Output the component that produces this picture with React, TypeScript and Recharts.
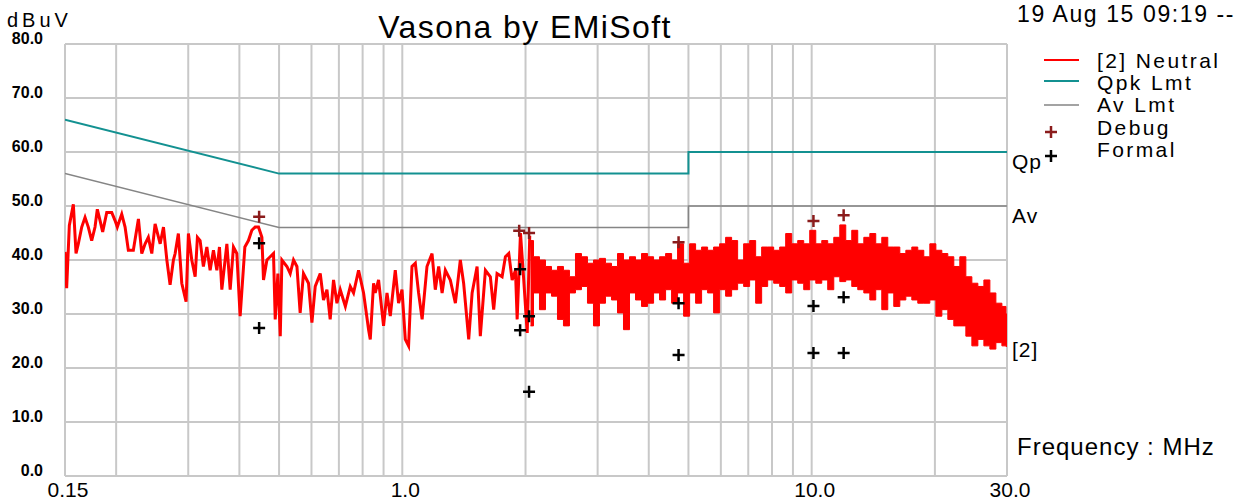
import React from 'react';
import { ComposedChart, Line, Area, Scatter, XAxis, YAxis, CartesianGrid, ReferenceDot } from 'recharts';

const W = 1239;
const H = 501;
const FONT = '"Liberation Sans", Arial, sans-serif';

// axis grid
const gridFreqs = [0.15, 0.2, 0.3, 0.4, 0.5, 0.6, 0.7, 0.8, 0.9, 1, 2, 3, 4, 5, 6, 7, 8, 9, 10, 20, 30];
const freqTickLabels: Record<string, string> = { '0.15': '0.15', '1': '1.0', '10': '10.0', '30': '30.0' };
const levelTicks = [0, 10, 20, 30, 40, 50, 60, 70, 80];

// limit lines [MHz, dBuV]
const qpkLimit: [number, number][] = [[0.15, 66], [0.5, 56], [5, 56], [5, 60], [30, 60]];
const avLimit: [number, number][] = [[0.15, 56], [0.5, 46], [5, 46], [5, 50], [30, 50]];

// neutral scan, lower part of the band [MHz, dBuV]
const neutralScan: [number, number][] = [
  [0.150, 41.5], [0.1514, 34.8], [0.1537, 46.4], [0.1572, 50.3], [0.1596, 41.2], [0.1617, 43.0],
  [0.1648, 46.1], [0.1679, 47.9], [0.1710, 46.1], [0.1743, 43.6], [0.1776, 46.1], [0.1799, 49.4],
  [0.1827, 47.3], [0.1854, 45.2], [0.1897, 48.8], [0.1951, 48.8], [0.1988, 47.3], [0.2013, 46.1],
  [0.2064, 48.5], [0.2103, 46.1], [0.2142, 41.8], [0.2203, 41.8], [0.2267, 47.6], [0.2310, 41.2],
  [0.2354, 43.0], [0.2397, 44.2], [0.2444, 41.2], [0.2490, 46.7], [0.2562, 43.0], [0.2610, 46.1],
  [0.2660, 40.0], [0.2709, 35.4], [0.2760, 40.0], [0.2787, 41.2], [0.2838, 44.9], [0.2893, 35.7],
  [0.2964, 32.3], [0.3003, 44.9], [0.3060, 40.0], [0.3119, 36.9], [0.3159, 44.2], [0.3207, 43.6],
  [0.3267, 38.8], [0.3331, 42.4], [0.3393, 38.1], [0.3457, 41.8], [0.3524, 38.1], [0.3576, 42.4],
  [0.3624, 34.5], [0.3728, 43.0], [0.3798, 34.5], [0.3869, 42.4], [0.3943, 41.2], [0.4017, 29.6],
  [0.4125, 42.4], [0.4209, 43.6], [0.4290, 45.5], [0.4371, 46.1], [0.4454, 46.1], [0.4540, 44.2],
  [0.4581, 36.3], [0.4670, 40.0], [0.4757, 40.6], [0.4846, 41.2], [0.4893, 29.0], [0.4967, 37.5],
  [0.5034, 25.9], [0.5081, 40.0], [0.5226, 38.8], [0.5324, 37.5], [0.5424, 40.0], [0.5529, 38.8],
  [0.5630, 30.2], [0.5736, 37.5], [0.5901, 35.7], [0.6015, 28.4], [0.6128, 35.1], [0.6303, 37.5],
  [0.6420, 32.6], [0.6545, 34.5], [0.6666, 29.0], [0.6793, 36.3], [0.6924, 32.0], [0.7054, 34.5],
  [0.7260, 31.4], [0.7463, 35.1], [0.7603, 33.9], [0.7820, 38.1], [0.8043, 33.9], [0.8273, 27.1],
  [0.8352, 25.3], [0.8508, 35.7], [0.8589, 33.9], [0.8751, 36.3], [0.9000, 27.8], [0.9175, 33.9],
  [0.9347, 29.6], [0.9613, 38.1], [0.9794, 32.0], [0.9984, 34.5], [1.017, 25.3], [1.036, 24.1],
  [1.056, 38.8], [1.076, 39.4], [1.096, 33.9], [1.118, 29.0], [1.149, 38.8], [1.182, 41.2],
  [1.204, 34.5], [1.227, 38.8], [1.251, 33.9], [1.274, 38.1], [1.310, 36.3], [1.348, 32.0],
  [1.386, 40.0], [1.412, 35.7], [1.453, 25.3], [1.481, 33.9], [1.523, 38.8], [1.551, 25.9],
  [1.596, 38.1], [1.641, 36.9], [1.672, 30.8], [1.704, 37.5], [1.753, 36.9], [1.786, 40.6],
  [1.820, 41.2], [1.855, 36.3], [1.890, 38.1], [1.908, 29.0], [1.944, 45.0], [1.980, 36.3],
  [2.019, 26.5], [2.048, 44.5],
];

// neutral scan above 2 MHz, min / max per bin [MHz, min, max]
const neutralBand: [number, number, number][] = [
  [2.057, 27.8, 43.6], [2.127, 33.9, 40.6], [2.200, 30.8, 40.0], [2.276, 33.9, 38.8], [2.354, 33.3, 38.1],
  [2.434, 29.0, 38.8], [2.518, 27.8, 38.1], [2.604, 33.9, 36.9], [2.694, 34.5, 41.2], [2.786, 35.1, 40.6],
  [2.882, 32.0, 39.4], [2.981, 27.8, 40.0], [3.083, 32.0, 40.3], [3.189, 33.3, 39.4], [3.299, 32.6, 38.8],
  [3.412, 30.2, 41.2], [3.529, 27.1, 40.0], [3.651, 33.9, 40.6], [3.776, 32.6, 40.0], [3.906, 31.4, 41.2],
  [4.041, 32.0, 40.6], [4.179, 33.9, 40.0], [4.323, 32.6, 40.6], [4.472, 34.5, 41.2], [4.625, 32.0, 40.0],
  [4.784, 33.9, 43.0], [4.949, 29.6, 39.4], [5.119, 33.9, 43.0], [5.294, 32.0, 41.8], [5.476, 34.5, 42.4],
  [5.664, 33.9, 41.8], [5.858, 30.2, 42.4], [6.060, 34.5, 43.0], [6.268, 33.3, 44.2], [6.483, 34.5, 43.6],
  [6.706, 35.7, 40.0], [6.936, 35.1, 43.0], [7.175, 36.3, 43.6], [7.421, 32.0, 40.6], [7.676, 35.1, 42.4],
  [7.940, 36.3, 42.4], [8.213, 35.7, 41.8], [8.495, 35.1, 42.4], [8.787, 33.9, 44.9], [9.089, 36.3, 43.0],
  [9.401, 35.7, 43.6], [9.725, 34.5, 43.0], [10.06, 36.3, 45.5], [10.41, 35.7, 43.0], [10.76, 36.3, 43.6],
  [11.13, 34.5, 43.0], [11.52, 36.9, 44.2], [11.91, 36.0, 46.5], [12.32, 36.3, 43.6], [12.74, 35.1, 45.5],
  [13.18, 34.5, 43.0], [13.64, 33.9, 44.2], [14.10, 32.6, 44.9], [14.58, 34.5, 43.0], [15.09, 30.8, 44.2],
  [15.60, 33.9, 42.4], [16.14, 31.4, 42.4], [16.70, 32.6, 41.2], [17.27, 33.3, 41.8], [17.86, 32.6, 42.4],
  [18.47, 32.0, 41.8], [19.11, 32.0, 40.6], [19.77, 32.6, 43.0], [20.45, 29.6, 41.8], [21.15, 30.8, 41.2],
  [21.87, 29.0, 40.6], [22.62, 27.8, 38.8], [23.40, 27.8, 40.6], [24.21, 25.9, 36.9], [25.04, 24.1, 35.7],
  [25.90, 25.3, 35.1], [26.79, 24.1, 36.3], [27.71, 23.5, 33.9], [28.66, 24.7, 32.0], [29.65, 24.1, 31.4],
  [30.0, 24.0, 30.0],
];

// peak markers [MHz, dBuV]
const debugPeaks: [number, number][] = [[0.447, 48.0], [1.93, 45.4], [2.04, 45.0], [4.73, 43.3], [10.1, 47.2], [11.97, 48.3]];
const formalPeaks: [number, number][] = [
  [0.447, 43.1], [0.447, 27.4], [1.94, 38.3], [1.94, 27.0], [2.04, 29.6], [2.04, 15.6],
  [4.73, 32.0], [4.73, 22.4], [10.1, 31.5], [10.1, 22.8], [11.97, 33.1], [11.97, 22.8],
];

const legendNames = ['[2] Neutral', 'Qpk Lmt', 'Av Lmt', 'Debug', 'Formal'];

const RED = '#ff0000';
const TEAL = '#139191';
const GRAY = '#858585';
const DARKRED = '#8b1c1c';

const toPts = (rows: [number, number][]) => rows.map(([f, v]) => ({ f, v }));
const scanData = toPts(neutralScan);
const bandData = neutralBand.map(([f, lo, hi]) => ({ f, band: [lo, hi] }));
const qpkData = toPts(qpkLimit);
const avData = toPts(avLimit);
const debugData = toPts(debugPeaks);
const formalData = toPts(formalPeaks);
const lastLevel = neutralBand[neutralBand.length - 1][1];

const Plus = ({ cx, cy, color }: { cx: number; cy: number; color: string }) => (
  <path d={`M${cx - 6},${cy}H${cx + 6}M${cx},${cy - 6}V${cy + 6}`} stroke={color} strokeWidth={2.5} fill="none" />
);

const FreqTick = (props: any) => {
  const { x, y, payload } = props;
  const label = freqTickLabels[String(payload.value)];
  if (!label) return <g />;
  return (
    <text x={x + 3} y={y} dy={21} textAnchor="middle" fontFamily={FONT} fontSize={21} fill="#000">
      {label}
    </text>
  );
};

const LevelTick = (props: any) => {
  const { x, y, payload } = props;
  return (
    <text x={x} y={y} dy={0} textAnchor="end" fontFamily={FONT} fontSize={16} fontWeight="bold" fill="#000">
      {payload.value.toFixed(1)}
    </text>
  );
};

const endLabel = (text: string, dy: number) => (props: any) => {
  const vb = props.viewBox;
  return (
    <text x={vb.x + 6} y={vb.y + dy} fontFamily={FONT} fontSize={21} letterSpacing={1} fill="#000">
      {text}
    </text>
  );
};

export default function App() {
  return (
    <div style={{ position: 'absolute', left: 0, top: 0, width: W, height: H, background: '#fff' }}>
      <ComposedChart width={W} height={H} margin={{ top: 44, right: 232, bottom: 0, left: 0 }}>
        <CartesianGrid stroke="#c8c8c8" strokeWidth={2} />
        <XAxis
          dataKey="f"
          type="number"
          scale="log"
          domain={[0.15, 30]}
          ticks={gridFreqs}
          allowDataOverflow
          axisLine={false}
          tickLine={false}
          tickSize={0}
          tickMargin={0}
          height={25}
          tick={<FreqTick />}
          interval={0}
        />
        <YAxis
          type="number"
          domain={[0, 80]}
          ticks={levelTicks}
          axisLine={false}
          tickLine={false}
          tickSize={0}
          tickMargin={22}
          width={65}
          tick={<LevelTick />}
          interval={0}
        />
        <Line data={qpkData} dataKey="v" stroke={TEAL} strokeWidth={2} dot={false} isAnimationActive={false} />
        <Line data={avData} dataKey="v" stroke={GRAY} strokeWidth={1.5} dot={false} isAnimationActive={false} />
        <Line data={scanData} dataKey="v" type="linear" stroke={RED} strokeWidth={3} dot={false} isAnimationActive={false} />
        <Area data={bandData} dataKey="band" type="step" stroke={RED} strokeWidth={1} fill={RED} fillOpacity={1} dot={false} isAnimationActive={false} />
        <Scatter data={debugData} dataKey="v" isAnimationActive={false} shape={(p: any) => <Plus cx={p.cx} cy={p.cy} color={DARKRED} />} />
        <Scatter data={formalData} dataKey="v" isAnimationActive={false} shape={(p: any) => <Plus cx={p.cx} cy={p.cy} color="#000" />} />
        <ReferenceDot x={30} y={qpkLimit[qpkLimit.length - 1][1]} r={1} fill="none" stroke="none" label={endLabel('Qp', 18)} />
        <ReferenceDot x={30} y={avLimit[avLimit.length - 1][1]} r={1} fill="none" stroke="none" label={endLabel('Av', 18)} />
        <ReferenceDot x={30} y={lastLevel} r={1} fill="none" stroke="none" label={endLabel('[2]', 12)} />
      </ComposedChart>

      <svg width={W} height={H} style={{ position: 'absolute', left: 0, top: 0, pointerEvents: 'none' }} fontFamily={FONT}>
        <text x={7} y={27} fontSize={20} letterSpacing={4}>dBuV</text>
        <text x={525} y={38} fontSize={32} letterSpacing={1.4} textAnchor="middle">Vasona by EMiSoft</text>
        <text x={1017} y={22} fontSize={23} letterSpacing={1.6}>19 Aug 15 09:19 --</text>
        <text x={1017} y={455} fontSize={24} letterSpacing={1}>Frequency : MHz</text>
        <line x1={1044} x2={1079} y1={60} y2={60} stroke={RED} strokeWidth={2} />
        <line x1={1044} x2={1079} y1={81} y2={81} stroke={TEAL} strokeWidth={2} />
        <line x1={1044} x2={1079} y1={105} y2={105} stroke={GRAY} strokeWidth={1.5} />
        <Plus cx={1051} cy={132} color={DARKRED} />
        <Plus cx={1051} cy={156} color="#000" />
        {legendNames.map((name, i) => (
          <text key={name} x={1097} y={68 + i * 22.2} fontSize={21} letterSpacing={2.4}>{name}</text>
        ))}
      </svg>
    </div>
  );
}
